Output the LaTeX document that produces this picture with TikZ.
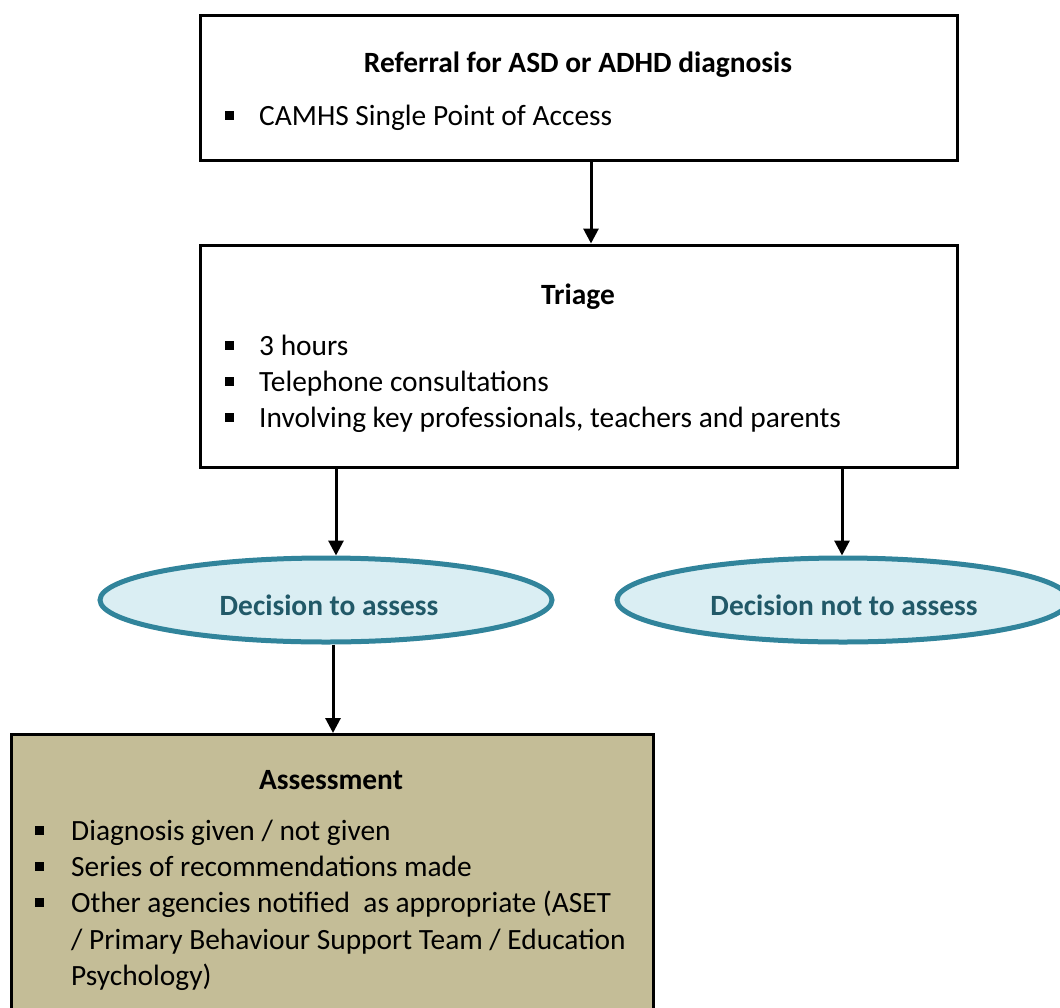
\documentclass[tikz,border=0pt]{standalone}
\usepackage{fontspec}
\setmainfont{Carlito}
\usetikzlibrary{shapes.geometric,arrows.meta}
\definecolor{ellfill}{HTML}{DAEEF3}
\definecolor{elldraw}{HTML}{31849B}
\definecolor{elltext}{HTML}{215968}
\definecolor{tan}{HTML}{C4BD97}
\tikzset{
  box/.style={draw=black,line width=3pt,rectangle,inner sep=0pt},
  ell/.style={ellipse,draw=elldraw,fill=ellfill,line width=5pt,minimum width=452pt,minimum height=84pt,inner sep=0pt},
  elltxt/.style={anchor=base,font=\fontsize{29.4}{34}\selectfont\bfseries,text=elltext,inner sep=0pt},
  title/.style={anchor=base,font=\fontsize{29.4}{34}\selectfont\bfseries,inner sep=0pt},
  item/.style={anchor=base west,font=\fontsize{29.4}{34}\selectfont,inner sep=0pt},
  bul/.style={fill=black,minimum size=9pt,inner sep=0pt,rectangle},
  arr/.style={line width=3pt,-{Triangle[length=15pt,width=15pt]}},
}
\begin{document}
\begin{tikzpicture}[x=1pt,y=1pt]
\useasboundingbox (0,0) rectangle (1060,-1007);
\clip (0,0) rectangle (1060,-1007);
% box 1
\node[box,minimum width=757pt,minimum height=145pt] (b1) at (578.5,-87.5) {};
\node[title] (t1) at (578,-72) {Referral for ASD or ADHD diagnosis};
\node[bul] (b1a) at (229,-115) {};
\node[item] (i1a) at (259,-125) {CAMHS Single Point of Access};
% box 2
\node[box,minimum width=757pt,minimum height=222pt] (b2) at (578.5,-356) {};
\node[title] (t2) at (578,-304) {Triage};
\node[bul] (b2a) at (229,-345) {};
\node[item] (i2a) at (259,-355) {3 hours};
\node[bul] (b2b) at (229,-381) {};
\node[item] (i2b) at (259,-391) {Telephone consultations};
\node[bul] (b2c) at (229,-417) {};
\node[item] (i2c) at (259,-427) {Involving key professionals, teachers and parents};
% ellipses
\node[ell] (e1) at (326,-600) {};
\node[elltxt] (e1t) at (329,-615) {Decision to assess};
\node[ell] (e2) at (843,-600) {};
\node[elltxt] (e2t) at (844,-615) {Decision not to assess};
% box 3
\node[box,fill=tan,minimum width=642pt,minimum height=300pt,anchor=north west] (b3) at (10,-733) {};
\node[title] (t3) at (331,-789) {Assessment};
\node[bul] (b3a) at (39,-830) {};
\node[item] (i3a) at (71,-840) {Diagnosis given / not given};
\node[bul] (b3b) at (39,-866) {};
\node[item] (i3b) at (71,-876) {Series of recommendations made};
\node[bul] (b3c) at (39,-902) {};
\node[item] (i3c) at (71,-912) {Other agencies notified\ \ as appropriate (ASET};
\node[item] (i3d) at (71,-949) {/ Primary Behaviour Support Team / Education};
\node[item] (i3e) at (71,-985) {Psychology)};
% arrows
\draw[arr] (b1.south -| 591,0) -- (b2.north -| 591,0);
\draw[arr] (b2.south -| 336,0) -- (e1.north -| 336,0);
\draw[arr] (b2.south -| 842,0) -- (e2.north -| 842,0);
\draw[arr] (e1.south -| 333,0) -- (b3.north -| 333,0);
\end{tikzpicture}
\end{document}
